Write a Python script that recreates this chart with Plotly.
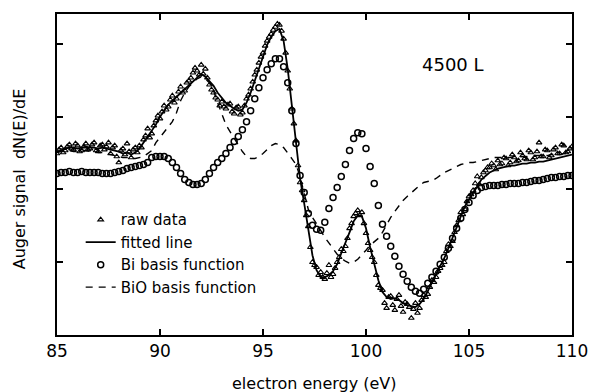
import numpy as np
import plotly.graph_objects as go

# electron energy grids (eV)
energy = np.round(np.arange(85.0, 110.0001, 0.2), 1)
energy_raw = np.round(np.arange(85.0, 110.0001, 0.1), 1)

# Auger signal dN(E)/dE, arbitrary units
raw_data = [
    182, 186, 188, 183, 185, 189, 191, 187, 186, 192,
    190, 184, 185, 189, 192, 186, 187, 191, 193, 185,
    184, 190, 191, 186, 189, 193, 182, 188, 190, 179,
    173, 185, 187, 181, 192, 184, 178, 186, 188, 183,
    190, 188, 196, 200, 207, 198, 202, 210, 215, 220,
    217, 224, 230, 226, 229, 236, 240, 233, 237, 244,
    249, 243, 245, 253, 255, 258, 263, 268, 265, 261,
    271, 262, 267, 258, 251, 246, 243, 238, 236, 230,
    234, 229, 227, 231, 232, 224, 222, 228, 229, 221,
    223, 230, 237, 241, 247, 254, 261, 266, 273, 279,
    283, 290, 295, 299, 302, 306, 309, 312, 311, 305,
    297, 283, 265, 247, 227, 212, 195, 170, 153, 145,
    135, 120, 109, 88, 73, 70, 68, 60, 63, 58,
    56, 62, 70, 58, 61, 67, 73, 78, 86, 84,
    89, 97, 107, 112, 119, 122, 125, 120, 123, 112,
    102, 92, 85, 78, 73, 60, 50, 47, 45, 32,
    27, 38, 39, 30, 25, 36, 40, 29, 23, 33,
    31, 28, 17, 26, 32, 22, 27, 35, 40, 38,
    41, 48, 55, 53, 58, 64, 67, 70, 73, 84,
    91, 89, 94, 103, 110, 115, 123, 121, 126, 134,
    139, 141, 145, 152, 159, 151, 158, 163, 165, 168,
    168, 172, 170, 166, 175, 171, 172, 178, 177, 170,
    173, 181, 178, 174, 175, 183, 180, 177, 176, 185,
    183, 176, 178, 184, 193, 179, 179, 186, 185, 178,
    180, 186, 188, 182, 182, 191, 190, 183, 184, 187,
    189,
]

fitted_line = [
    184, 185, 187, 188, 188, 187, 188, 189, 188, 188,
    187, 188, 187, 186, 185, 184, 182, 183, 181, 183,
    187, 193, 199, 204, 211, 219, 225, 231, 235, 239,
    243, 247, 251, 255, 259, 262, 259, 255, 250, 243,
    238, 233, 230, 227, 225, 226, 233, 243, 255, 267,
    279, 291, 299, 305, 307, 295, 267, 230, 190, 157,
    132, 105, 80, 65, 58, 58, 60, 64, 71, 82,
    92, 103, 114, 120, 119, 107, 88, 70, 55, 43,
    38, 36, 37, 35, 32, 30, 29, 28, 31, 36,
    44, 53, 61, 69, 77, 87, 97, 108, 119, 129,
    136, 142, 149, 156, 160, 163, 165, 167, 168, 169,
    170, 170, 171, 172, 172, 173, 173, 174, 174, 175,
    176, 177, 178, 179, 180, 181,
]

bi_basis = [
    162, 163, 163, 164, 163, 163, 164, 163, 163, 163,
    163, 162, 162, 162, 163, 164, 165, 167, 168, 169,
    170, 171, 173, 178, 179, 179, 179, 177, 173, 168,
    162, 156, 153, 151, 151, 152, 156, 162, 168, 173,
    177, 182, 188, 194, 199, 206, 214, 225, 237, 248,
    258, 266, 272, 277, 277, 269, 253, 225, 192, 160,
    143, 122, 110, 106, 105, 113, 127, 138, 148, 159,
    171, 185, 197, 203, 202, 187, 169, 152, 130, 111,
    99, 89, 79, 69, 61, 54, 48, 44, 42, 46,
    52, 58, 64, 71, 78, 87, 97, 107, 117, 126,
    133, 140, 145, 148, 149, 150, 150, 150, 151, 151,
    152, 152, 152, 153, 153, 154, 155, 155, 156, 157,
    158, 158, 159, 159, 160, 160,
]

bio_basis = [
    183, 184, 185, 185, 184, 184, 185, 185, 184, 184,
    183, 183, 182, 181, 180, 179, 178, 178, 177, 177,
    178, 179, 182, 185, 193, 198, 204, 209, 214, 223,
    235, 243, 249, 253, 257, 259, 257, 253, 245, 233,
    221, 211, 204, 197, 190, 184, 179, 177, 177, 179,
    182, 186, 190, 192, 191, 188, 183, 177, 171, 159,
    142, 126, 118, 112, 105, 98, 92, 86, 81, 77,
    74, 72, 73, 76, 80, 85, 90, 94, 97, 103,
    111, 118, 124, 130, 135, 139, 143, 147, 150, 153,
    154, 155, 157, 160, 163, 165, 167, 169, 171, 172,
    173, 173, 174, 175, 176, 177, 178, 178, 178, 178,
    178, 179, 179, 179, 179, 180, 180, 180, 180, 180,
    181, 181, 181, 182, 182, 182,
]

legend_labels = ["raw data", "fitted line", "Bi basis function", "BiO basis function"]
x_ticks = [85, 90, 95, 100, 105, 110]
y_ticks = [73, 146, 219, 292]
exposure_label = "4500 L"
x_title = "electron energy (eV)"
y_title = "Auger signal\u00a0\u00a0dN(E)/dE"

FONT = "DejaVu Sans"

fig = go.Figure()
fig.add_trace(go.Scatter(
    x=energy_raw, y=raw_data, mode="markers", name=legend_labels[0],
    marker=dict(symbol="triangle-up-open", size=5, color="black", line=dict(width=1.1)),
))
fig.add_trace(go.Scatter(
    x=energy, y=fitted_line, mode="lines", name=legend_labels[1],
    line=dict(color="black", width=1.8),
))
fig.add_trace(go.Scatter(
    x=energy, y=bi_basis, mode="markers", name=legend_labels[2],
    marker=dict(symbol="circle-open", size=6, color="black", line=dict(width=1.5)),
))
fig.add_trace(go.Scatter(
    x=energy, y=bio_basis, mode="lines", name=legend_labels[3],
    line=dict(color="black", width=1.4, dash="7px,6px"),
))

fig.add_annotation(
    x=104.2, y=271, xref="x", yref="y", text=exposure_label, showarrow=False,
    font=dict(family=FONT, size=18, color="black"),
)
fig.add_annotation(
    x=0.5, y=-0.152, xref="paper", yref="paper", text=x_title, showarrow=False,
    font=dict(family=FONT, size=16, color="black"), yanchor="middle",
)
fig.add_annotation(
    x=-0.0722, y=0.4876, xref="paper", yref="paper", text=y_title, showarrow=False,
    textangle=-90, font=dict(family=FONT, size=16, color="black"),
    xanchor="center", yanchor="middle",
)

fig.update_layout(
    width=600, height=392,
    margin=dict(l=57, r=17, t=13, b=57),
    paper_bgcolor="white", plot_bgcolor="white",
    font=dict(family=FONT, color="black"),
    showlegend=True,
    legend=dict(
        x=0.046, y=0.41, xanchor="left", yanchor="top",
        font=dict(family=FONT, size=15, color="black"),
        bgcolor="rgba(0,0,0,0)", borderwidth=0,
        tracegroupgap=0,
    ),
)
fig.update_xaxes(
    range=[85, 110], tickvals=x_ticks, ticks="inside", ticklen=6, tickwidth=1.5,
    tickcolor="black", showline=True, linecolor="black", linewidth=2, mirror="ticks",
    showgrid=False, zeroline=False,
    tickfont=dict(family=FONT, size=17, color="black"),
)
fig.update_yaxes(
    range=[0, 322], tickvals=y_ticks, ticks="inside", ticklen=6, tickwidth=1.5,
    tickcolor="black", showline=True, linecolor="black", linewidth=2, mirror="ticks",
    showgrid=False, zeroline=False, showticklabels=False,
)

fig.write_html("out.html")
